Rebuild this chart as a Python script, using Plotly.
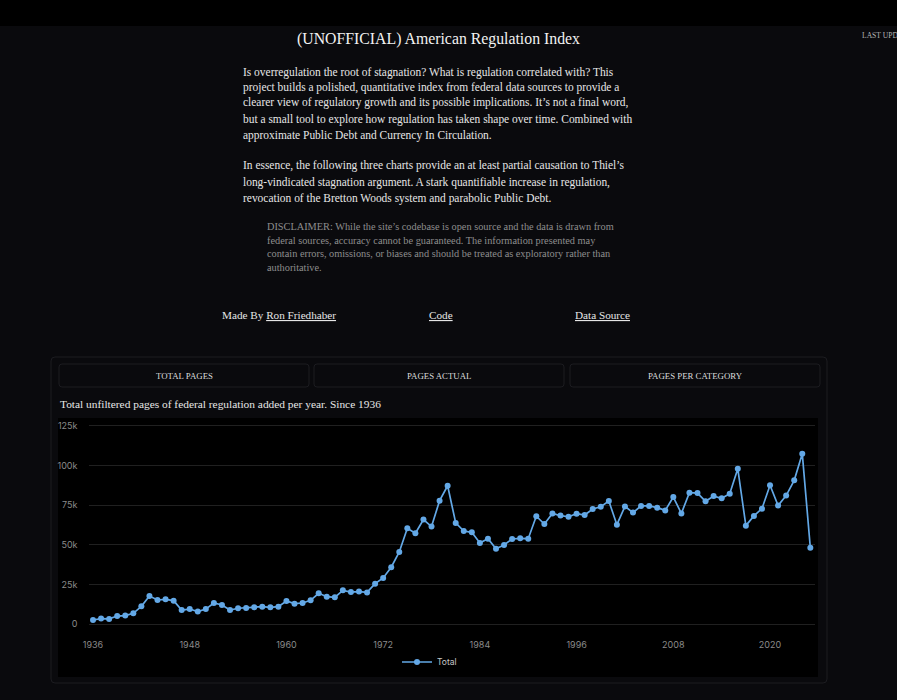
import plotly.graph_objects as go

years = list(range(1936, 2026))
total_pages = [
    2700, 3600, 3400, 5200, 5500, 6900, 11300, 17800, 15300, 15700,
    14900, 9000, 9600, 8000, 9600, 13400, 12200, 9000, 10100, 10300,
    10700, 11100, 10700, 11100, 14700, 13000, 13400, 15100, 19500, 17400,
    17000, 21400, 20300, 20600, 20100, 25600, 29200, 35900, 45500, 60400,
    57300, 65900, 61500, 77800, 87200, 63800, 58700, 57900, 51200, 53900,
    47600, 49900, 53700, 54100, 53900, 68000, 63100, 69800, 68400, 67700,
    69600, 68800, 72600, 74000, 77600, 62700, 74200, 70300, 74500, 74500,
    73400, 71700, 80100, 69800, 82800, 82600, 77400, 80700, 79300, 82200,
    97900, 62100, 68200, 72800, 87500, 74700, 81000, 90600, 107400, 48200,
]
x_ticks = [1936, 1948, 1960, 1972, 1984, 1996, 2008, 2020]
y_ticks = [0, 25000, 50000, 75000, 100000, 125000]
y_tick_labels = ["0", "25k", "50k", "75k", "100k", "125k"]

title = "(UNOFFICIAL) American Regulation Index"
intro_lines = [
    "Is overregulation the root of stagnation? What is regulation correlated with? This",
    "project builds a polished, quantitative index from federal data sources to provide a",
    "clearer view of regulatory growth and its possible implications. It\u2019s not a final word,",
    "but a small tool to explore how regulation has taken shape over time. Combined with",
    "approximate Public Debt and Currency In Circulation.",
]
essence_lines = [
    "In essence, the following three charts provide an at least partial causation to Thiel\u2019s",
    "long-vindicated stagnation argument. A stark quantifiable increase in regulation,",
    "revocation of the Bretton Woods system and parabolic Public Debt.",
]
disclaimer_lines = [
    "DISCLAIMER: While the site\u2019s codebase is open source and the data is drawn from",
    "federal sources, accuracy cannot be guaranteed. The information presented may",
    "contain errors, omissions, or biases and should be treated as exploratory rather than",
    "authoritative.",
]
tab_labels = ["TOTAL PAGES", "PAGES ACTUAL", "PAGES PER CATEGORY"]
subtitle = "Total unfiltered pages of federal regulation added per year. Since 1936"

W, H = 897, 700
SERIF = "Liberation Serif"
SANS = "Inter"
PAGE = "#0a0a0d"


def px(x):
    return x / W


def py(y):
    return 1 - y / H


def rounded(x0, y0, x1, y1, r, fill, line):
    X0, X1, Y0, Y1 = px(x0), px(x1), py(y0), py(y1)
    rx, ry = r / W, r / H
    path = (
        f"M{X0 + rx},{Y0} L{X1 - rx},{Y0} Q{X1},{Y0} {X1},{Y0 - ry} "
        f"L{X1},{Y1 + ry} Q{X1},{Y1} {X1 - rx},{Y1} "
        f"L{X0 + rx},{Y1} Q{X0},{Y1} {X0},{Y1 + ry} "
        f"L{X0},{Y0 - ry} Q{X0},{Y0} {X0 + rx},{Y0} Z"
    )
    return dict(type="path", xref="paper", yref="paper", path=path, fillcolor=fill,
                line=dict(color=line, width=1), layer="below")


def note(text, x, y, size, color, anchor="left"):
    return dict(text=text, x=px(x), y=py(y), xref="paper", yref="paper", showarrow=False,
                xanchor=anchor, yanchor="middle", align=anchor,
                font=dict(family=SERIF, size=size, color=color))


shapes = [
    dict(type="rect", xref="paper", yref="paper", x0=0, x1=1, y0=py(26), y1=1,
         fillcolor="#000000", line=dict(width=0), layer="below"),
    rounded(51, 357, 827, 683, 4, "#0a0a0d", "#1c1c20"),
    rounded(59, 364, 309, 387, 3, "#0a0a0d", "#1c1c20"),
    rounded(314, 364, 564, 387, 3, "#0a0a0d", "#1c1c20"),
    rounded(570, 364, 820, 387, 3, "#0a0a0d", "#1c1c20"),
    dict(type="rect", xref="paper", yref="paper", x0=px(58), x1=px(818), y0=py(677), y1=py(418),
         fillcolor="#000000", line=dict(width=0), layer="below"),
]

annotations = [note(title, 438.5, 39, 15.8, "#f2f2f2", "center"),
               note("LAST UPD", 860, 35.5, 7.6, "#b5b5b5")]
for text, y in zip(intro_lines, [72, 88, 103, 119, 135]):
    annotations.append(note(text, 241, y, 11.45, "#e6e6e6"))
for text, y in zip(essence_lines, [166, 182, 198]):
    annotations.append(note(text, 241, y, 11.45, "#e6e6e6"))
for text, y in zip(disclaimer_lines, [226, 240, 253, 267]):
    annotations.append(note(text, 265, y, 10.3, "#8e8e8e"))
annotations += [
    note("Made By <u>Ron Friedhaber</u>", 220, 315, 11.2, "#e6e6e6"),
    note("<u>Code</u>", 427, 315, 11.2, "#e6e6e6"),
    note("<u>Data Source</u>", 573, 315, 11.2, "#e6e6e6"),
    note(subtitle, 58, 404, 11.4, "#e6e6e6"),
]
for text, x in zip(tab_labels, [184, 439, 695]):
    annotations.append(note(text, x, 375.5, 8.8, "#dcdcdc", "center"))

fig = go.Figure(go.Scatter(
    x=years, y=total_pages, mode="lines+markers", name="Total",
    line=dict(color="#63a8e6", width=1.7),
    marker=dict(color="#63a8e6", size=6),
))
fig.update_layout(
    width=W, height=H, margin=dict(l=0, r=0, t=0, b=0, autoexpand=False),
    paper_bgcolor=PAGE, plot_bgcolor="#000000",
    shapes=shapes, annotations=annotations,
    showlegend=True,
    legend=dict(x=px(397), y=py(662), xanchor="left", yanchor="middle",
                orientation="h", bgcolor="rgba(0,0,0,0)",
                font=dict(family=SANS, size=8.5, color="#c8c8c8")),
    xaxis=dict(domain=[px(89.3), px(815)], range=[1935.54, 2025.58],
               tickvals=x_ticks, showgrid=False, zeroline=False, showline=False,
               ticks="outside", ticklen=9, tickcolor="rgba(0,0,0,0)",
               tickfont=dict(family=SANS, size=9, color="#8a8a8a")),
    yaxis=dict(domain=[py(626.7), py(423.3)], range=[-1500, 126500],
               tickvals=y_ticks, ticktext=y_tick_labels, showgrid=True,
               gridcolor="#202020", gridwidth=1, zeroline=False, showline=False,
               ticks="outside", ticklen=9, tickcolor="rgba(0,0,0,0)",
               tickfont=dict(family=SANS, size=9, color="#8a8a8a")),
)
fig.write_html("out.html", config={"displayModeBar": False},
               post_script="document.body.style.margin='0';document.body.style.background='#0a0a0d';")
